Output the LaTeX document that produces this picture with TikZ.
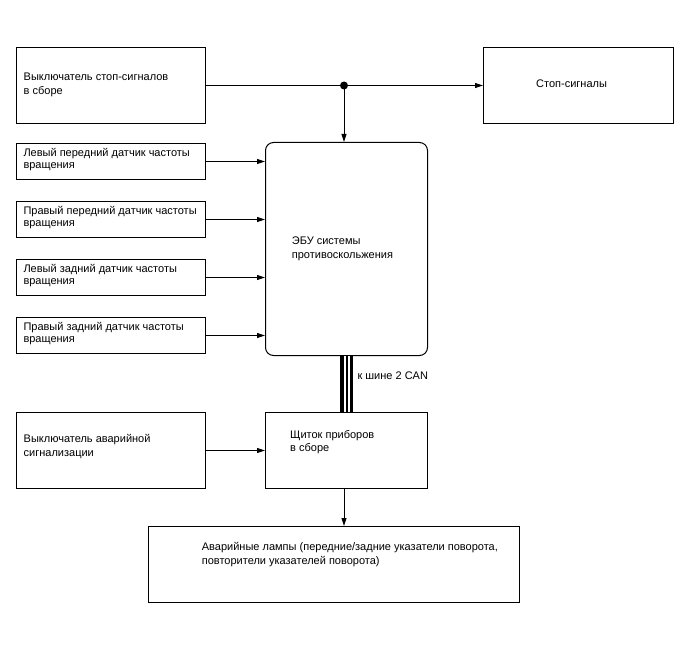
\documentclass[tikz,border=0pt]{standalone}
\usepackage{fontspec}
\setmainfont{Liberation Sans}
\usetikzlibrary{arrows.meta,positioning}
\tikzset{
  blk/.style={draw,line width=1pt,anchor=north west,inner sep=0pt},
  ecublk/.style={blk,rounded corners=8pt},
  txt/.style={anchor=base west,align=left,inner sep=0pt,font=\fontsize{11}{13.5}\selectfont},
  sig/.style={line width=1pt,-{Triangle[length=8pt,width=5pt]}},
  dot/.style={circle,fill=black,inner sep=0pt,minimum size=8pt}
}

\begin{document}
\begin{tikzpicture}[x=1pt,y=-1pt]
  \useasboundingbox (0,0) rectangle (688,658);
  % blocks
  \node[blk,minimum width=189pt,minimum height=76pt] (brk) at (16,47) {};
  \node[blk,minimum width=190pt,minimum height=76pt] (stop) at (483,47) {};
  \node[ecublk,minimum width=162pt,minimum height=213pt] (ecu) at (265,142) {};
  \node[blk,minimum width=189pt,minimum height=76pt] (haz) at (16,412) {};
  \node[blk,minimum width=162pt,minimum height=76pt] (ibc) at (265,412) {};
  \node[blk,minimum width=371pt,minimum height=76pt] (lamp) at (148,526) {};
  % texts (anchored at the baseline of the last line)
  \node[txt] (brktxt) at (23.5,94.3) {Выключатель стоп-сигналов\\в сборе};
  \node[txt] (stoptxt) at (536,87.3) {Стоп-сигналы};
  \node[txt] (ecutxt) at (291.7,258.3) {ЭБУ системы\\противоскольжения};
  \node[txt] (haztxt) at (23.5,456) {Выключатель аварийной\\сигнализации};
  \node[txt] (ibctxt) at (290,451.7) {Щиток приборов\\в сборе};
  \node[txt] (lamptxt) at (201.7,564) {Аварийные лампы (передние/задние указатели поворота,\\повторители указателей поворота)};
  % speed sensors
  \foreach \i/\name in {0/Левый передний,1/Правый передний,2/Левый задний,3/Правый задний} {
    \node[blk,minimum width=189pt,minimum height=36pt] (spd\i) at (16,143+58*\i) {};
    \node[txt,font=\fontsize{11}{12}\selectfont] (spd\i txt) at ([xshift=7.3pt,yshift=-25pt]spd\i.north west) {\name\ датчик частоты\\вращения};
    \draw[sig] (spd\i.east) -- (spd\i.east -| ecu.west);
  }
  % connections
  \coordinate (jn) at (344,0 |- brk.east);
  \draw[sig] (brk.east) -- (stop.west);
  \node[dot] (jndot) at (jn) {};
  \draw[sig] (jndot.center) -- (jn |- ecu.north);
  \draw[sig] (haz.east) -- (haz.east -| ibc.west);
  \draw[sig] (ibc.south -| jn) -- (lamp.north -| jn);
  % CAN bus
  \draw[line width=13pt] (ecu.south) -- (ibc.north);
  \draw[line width=6pt,white] (ecu.south) -- (ibc.north);
  \draw[line width=2pt] (ecu.south) -- (ibc.north);
  \node[txt] (canlbl) at (357.3,379) {к шине 2 CAN};
\end{tikzpicture}
\end{document}
